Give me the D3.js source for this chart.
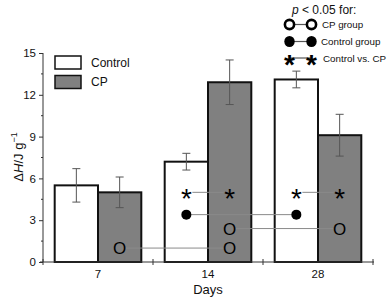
<!DOCTYPE html>
<html>
<head>
<meta charset="utf-8">
<script src="https://cdn.jsdelivr.net/npm/d3@7"></script>
<style>
  body { margin: 0; background: #fff; }
  svg { font-family: "Liberation Sans", Arial, sans-serif; }
</style>
</head>
<body>
<svg id="canvas" width="388" height="300"></svg>
<script>
(function () {

    // Data.
    const days = ["7", "14", "28"];
    const groups = ["Control", "CP"];
    const controlMeans = [5.5, 7.2, 13.1];
    const controlErr = [1.2, 0.6, 0.6];
    const cpMeans = [5.0, 12.9, 9.1];
    const cpErr = [1.1, 1.6, 1.5];
    const yTicks = [0, 3, 6, 9, 12, 15];
    const yMinorTicks = [1.5, 4.5, 7.5, 10.5, 13.5];

    // Significance marks: [day, group] pairs joined by a line at a given height.
    const cpPairs = [
        { from: ["7", "CP"], to: ["14", "CP"], y: 1.0 },
        { from: ["14", "CP"], to: ["28", "CP"], y: 2.4 }
    ];
    const controlPairs = [
        { from: ["14", "Control"], to: ["28", "Control"], y: 3.4 }
    ];
    const vsPairs = [
        { from: ["14", "Control"], to: ["14", "CP"], y: 5.0 },
        { from: ["28", "Control"], to: ["28", "CP"], y: 5.0 }
    ];

    const keyRows = [
        { type: "open", label: "CP group" },
        { type: "filled", label: "Control group" },
        { type: "star", label: "Control vs. CP" }
    ];

    const GREY = "#808080";
    const LINE = "#8a8a8a";
    const STAR_SIZE = 28;

    let svg = d3.select("#canvas");

    let x0 = d3.scaleBand().domain(days).range([43, 373]);
    let x1 = d3.scaleBand().domain(groups).range([0, x0.bandwidth()]).paddingOuter(0.27);
    let y = d3.scaleLinear().domain([0, 15]).range([262, 53]);

    let cx = (d, g) => x0(d) + x1(g) + x1.bandwidth() / 2;

    // Flatten bar data.
    let bars = [];
    days.forEach((d, i) => {
        bars.push({ day: d, group: "Control", mean: controlMeans[i], err: controlErr[i] });
        bars.push({ day: d, group: "CP", mean: cpMeans[i], err: cpErr[i] });
    });

    // Bars.
    svg.append("g").selectAll("rect")
        .data(bars)
        .join("rect")
        .attr("x", d => x0(d.day) + x1(d.group))
        .attr("y", d => y(d.mean))
        .attr("width", x1.bandwidth())
        .attr("height", d => y(0) - y(d.mean))
        .attr("fill", d => d.group === "CP" ? GREY : "#fff")
        .attr("stroke", "#111")
        .attr("stroke-width", 2);

    // Error bars.
    let eb = svg.append("g").attr("stroke", "#555").attr("stroke-width", 1);
    bars.forEach(d => {
        let c = cx(d.day, d.group);
        eb.append("line").attr("x1", c).attr("x2", c)
            .attr("y1", y(d.mean + d.err)).attr("y2", y(d.mean - d.err));
        eb.append("line").attr("x1", c - 4).attr("x2", c + 4)
            .attr("y1", y(d.mean + d.err)).attr("y2", y(d.mean + d.err));
        eb.append("line").attr("x1", c - 4).attr("x2", c + 4)
            .attr("y1", y(d.mean - d.err)).attr("y2", y(d.mean - d.err));
    });

    // Marker drawing helpers.
    function drawStar(g, x, yy, weight) {
        g.append("text").attr("x", x).attr("y", yy + STAR_SIZE * 0.56)
            .attr("text-anchor", "middle").attr("font-size", STAR_SIZE)
            .attr("font-weight", weight)
            .text("*");
    }

    function drawMarker(g, type, x, yy) {
        if (type === "open") {
            g.append("text").attr("x", x).attr("y", yy + 6)
                .attr("text-anchor", "middle").attr("font-size", 17)
                .text("O");
        } else if (type === "filled") {
            g.append("circle").attr("cx", x).attr("cy", yy).attr("r", 5).attr("fill", "#000");
        } else {
            drawStar(g, x, yy, "normal");
        }
    }

    function drawPairs(pairs, type, gap) {
        let g = svg.append("g");
        pairs.forEach(p => {
            let xa = cx(p.from[0], p.from[1]);
            let xb = cx(p.to[0], p.to[1]);
            g.append("line")
                .attr("x1", xa + gap).attr("x2", xb - gap)
                .attr("y1", y(p.y)).attr("y2", y(p.y))
                .attr("stroke", LINE).attr("stroke-width", 1);
            drawMarker(g, type, xa, y(p.y));
            drawMarker(g, type, xb, y(p.y));
        });
    }

    drawPairs(cpPairs, "open", 6);
    drawPairs(controlPairs, "filled", 4);
    drawPairs(vsPairs, "star", 6);

    // Y axis.
    let yAxis = svg.append("g")
        .attr("transform", "translate(43,0)")
        .call(d3.axisLeft(y).tickValues(yTicks).tickSize(4).tickPadding(3));
    yAxis.append("g").selectAll("line")
        .data(yMinorTicks)
        .join("line")
        .attr("x1", -2).attr("x2", 0)
        .attr("y1", d => y(d)).attr("y2", d => y(d))
        .attr("stroke", "#333");
    yAxis.select(".domain").attr("d", "M0," + y(0) + "V" + y(15)).attr("stroke", "#333");
    yAxis.selectAll(".tick line").attr("stroke", "#333");
    yAxis.selectAll("text").attr("font-size", 11.5).attr("fill", "#111")
        .attr("font-family", "Liberation Sans, Arial, sans-serif");

    // X axis: line with ticks on the band edges, labels at band centres.
    let xg = svg.append("g");
    xg.append("line").attr("x1", 40).attr("x2", 374)
        .attr("y1", y(0)).attr("y2", y(0)).attr("stroke", "#333");
    let edges = days.map(d => x0(d)).concat([x0.range()[1]]);
    xg.selectAll(".edge").data(edges).join("line")
        .attr("class", "edge")
        .attr("x1", d => d).attr("x2", d => d)
        .attr("y1", y(0) - 3).attr("y2", y(0) + 3)
        .attr("stroke", "#333");
    xg.selectAll(".lab").data(days).join("text")
        .attr("class", "lab")
        .attr("x", d => x0(d) + x0.bandwidth() / 2)
        .attr("y", 278)
        .attr("text-anchor", "middle")
        .attr("font-size", 11.5)
        .attr("fill", "#111")
        .text(d => d);

    svg.append("text")
        .attr("x", 208).attr("y", 294)
        .attr("text-anchor", "middle")
        .attr("font-size", 13)
        .attr("fill", "#111")
        .text("Days");

    // Y label.
    let yl = svg.append("text")
        .attr("transform", "translate(23,157) rotate(-90)")
        .attr("text-anchor", "middle")
        .attr("font-size", 13)
        .attr("fill", "#111");
    yl.append("tspan").text("\u0394");
    yl.append("tspan").attr("font-style", "italic").text("H");
    yl.append("tspan").text("/J g");
    yl.append("tspan").attr("font-size", 9).attr("dy", -6).text("\u22121");

    // Legend.
    let legend = svg.append("g");
    groups.forEach((g, i) => {
        legend.append("rect")
            .attr("x", 55).attr("y", 56 + i * 19.5)
            .attr("width", 26).attr("height", 13)
            .attr("fill", g === "CP" ? GREY : "#fff")
            .attr("stroke", "#111").attr("stroke-width", 1.5);
        legend.append("text")
            .attr("x", 91).attr("y", 66.5 + i * 19.5)
            .attr("font-size", 12)
            .attr("fill", "#111")
            .text(g);
    });

    // Significance key.
    let key = svg.append("g");
    let kt = key.append("text").attr("x", 292).attr("y", 14)
        .attr("font-size", 12).attr("fill", "#111");
    kt.append("tspan").attr("font-style", "italic").text("p");
    kt.append("tspan").text(" < 0.05 for:");
    let keyY = [24.5, 41.5, 58];
    let keyTextX = [322, 321, 323];
    let kx = [289.5, 311.5];
    keyRows.forEach((r, i) => {
        let ky = keyY[i];
        key.append("line").attr("x1", kx[0]).attr("x2", kx[1])
            .attr("y1", ky).attr("y2", ky)
            .attr("stroke", "#555").attr("stroke-width", 1.2);
        if (r.type === "open") {
            kx.forEach(xx => key.append("circle")
                .attr("cx", xx).attr("cy", ky).attr("r", 4.6)
                .attr("fill", "#fff").attr("stroke", "#000").attr("stroke-width", 2.6));
        } else if (r.type === "filled") {
            kx.forEach(xx => key.append("ellipse")
                .attr("cx", xx).attr("cy", ky).attr("rx", 5.2).attr("ry", 5.6)
                .attr("fill", "#000"));
        } else {
            kx.forEach(xx => drawStar(key, xx, ky, "bold"));
        }
        key.append("text")
            .attr("x", keyTextX[i]).attr("y", ky + 3.5)
            .attr("font-size", 9.8)
            .attr("fill", "#111")
            .text(r.label);
    });

})();
</script>
</body>
</html>
